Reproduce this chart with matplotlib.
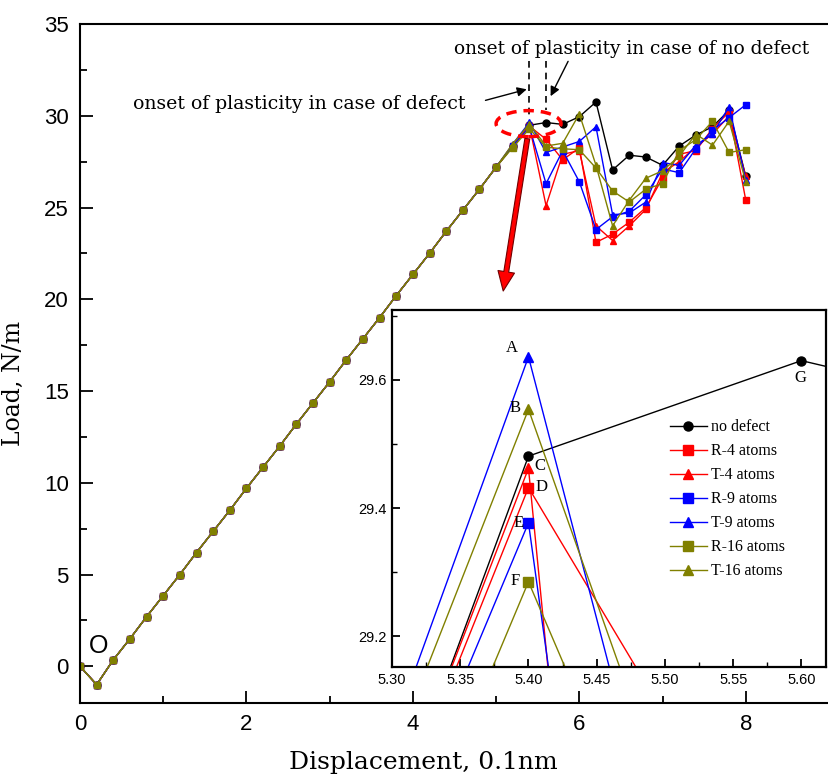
import numpy as np
import matplotlib
matplotlib.use('Agg')
import matplotlib.pyplot as plt
from matplotlib.patches import Ellipse, FancyArrowPatch
from matplotlib.ticker import MultipleLocator

# displacement (0.1 nm), step 0.2
disp = np.round(np.arange(0, 8.01, 0.2), 1)

# elastic part, identical for all cases (0 .. 5.0)
load_shared = [0.0, -1.0, 0.35, 1.5, 2.7, 3.85, 5.0, 6.2, 7.35, 8.5,
               9.7, 10.85, 12.0, 13.2, 14.35, 15.5, 16.7, 17.85, 19.0, 20.2,
               21.35, 22.5, 23.7, 24.85, 26.0, 27.2]

# 5.2 .. 8.0
no_defect = [28.33, 29.481, 29.63, 29.53, 29.95, 30.75, 27.05, 27.85, 27.75, 27.3,
             28.35, 28.95, 29.4, 30.3, 26.7]
r4 = [28.37, 29.432, 28.72, 27.6, 28.25, 23.1, 23.55, 24.2, 25.0, 26.6,
      27.9, 28.1, 29.3, 30.2, 25.4]
t4 = [28.36, 29.462, 25.1, 27.9, 28.1, 24.0, 23.2, 24.0, 24.9, 26.9,
      27.5, 28.3, 29.0, 30.0, 26.7]
r9 = [28.36, 29.377, 26.3, 28.1, 26.4, 23.8, 24.5, 24.8, 25.7, 27.1,
      26.9, 28.2, 29.2, 29.9, 30.6]
t9 = [28.46, 29.636, 28.0, 28.3, 28.6, 29.4, 24.6, 24.7, 25.3, 27.45,
      27.3, 28.4, 29.0, 30.5, 26.5]
r16 = [28.27, 29.285, 28.29, 28.2, 28.15, 27.15, 25.9, 25.3, 26.0, 26.3,
       28.1, 28.7, 29.7, 28.0, 28.15]
t16 = [28.47, 29.554, 28.35, 28.5, 30.1, 27.3, 24.0, 25.4, 26.6, 27.0,
       27.8, 29.0, 28.4, 29.7, 26.4]

labels = ['no defect', 'R-4 atoms', 'T-4 atoms', 'R-9 atoms', 'T-9 atoms',
          'R-16 atoms', 'T-16 atoms']
tails = [no_defect, r4, t4, r9, t9, r16, t16]
colors = ['black', 'red', 'red', 'blue', 'blue', '#808000', '#808000']
markers = ['o', 's', '^', 's', '^', 's', '^']

# point labels in the inset
pt_names = ['A', 'B', 'C', 'D', 'E', 'F', 'G']
pt_pos = [(5.388, 29.65), (5.390, 29.556), (5.408, 29.466), (5.4095, 29.433),
          (5.393, 29.377), (5.390, 29.286), (5.599, 29.603)]

sans = ['Liberation Sans', 'DejaVu Sans']
serif = ['DejaVu Serif']
serif2 = ['Liberation Serif', 'DejaVu Serif']

fig = plt.figure(figsize=(8.29, 7.76), dpi=100)
ax = fig.add_axes([80 / 829, 1 - 703 / 776, 749 / 829, 679 / 776])

for lab, tail, c, m in zip(labels, tails, colors, markers):
    y = load_shared + tail
    ax.plot(disp, y, color=c, marker=m, ms=5, lw=1.0, label=lab)

ax.set_xlim(0, 9)
ax.set_ylim(-2, 35)
ax.xaxis.set_major_locator(MultipleLocator(2))
ax.xaxis.set_minor_locator(MultipleLocator(1))
ax.yaxis.set_major_locator(MultipleLocator(5))
ax.yaxis.set_minor_locator(MultipleLocator(2.5))
ax.tick_params(which='major', direction='in', length=9, width=1.3, labelsize=16, pad=8)
ax.tick_params(which='minor', direction='in', length=5, width=1.3)
for lbl in ax.get_xticklabels() + ax.get_yticklabels():
    lbl.set_family(sans)
for s in ax.spines.values():
    s.set_linewidth(1.5)
ax.spines['right'].set_visible(False)

ax.set_xlabel('Displacement, 0.1nm', family=serif, fontsize=18)
ax.set_ylabel('Load, N/m', family=serif, fontsize=17)
ax.xaxis.set_label_coords(0.459, -0.07)
ax.yaxis.set_label_coords(-0.074, 0.47)

ax.text(0.22, 1.1, 'O', family=sans, fontsize=18, ha='center', va='center')

# onset annotations
ax.text(0.64, 30.66, 'onset of plasticity in case of defect', family=serif,
        fontsize=13.6, ha='left', va='center')
ax.text(4.5, 33.66, 'onset of plasticity in case of no defect', family=serif,
        fontsize=13.4, ha='left', va='center')
ax.plot([5.4, 5.4], [33.0, 29.85], color='black', lw=1.2, ls=(0, (4, 3)))
ax.plot([5.6, 5.6], [33.0, 30.3], color='black', lw=1.2, ls=(0, (4, 3)))
ax.annotate('', xy=(5.40, 31.48), xytext=(4.84, 30.8),
            arrowprops=dict(arrowstyle='-|>', color='black', lw=1.0, mutation_scale=14))
ax.annotate('', xy=(5.64, 30.93), xytext=(5.88, 33.1),
            arrowprops=dict(arrowstyle='-|>', color='black', lw=1.0, mutation_scale=14))
ax.add_patch(Ellipse((5.39, 29.57), 0.78, 1.42, fill=False, ec='red', lw=2.5,
                     ls=(0, (3, 2)), zorder=5))
ax.add_patch(FancyArrowPatch((5.38, 28.9), (5.08, 20.3),
                             arrowstyle='simple,head_width=1.2,head_length=1.4,tail_width=0.35',
                             mutation_scale=10, fc='red', ec='#700000', lw=0.8, zorder=6))

# inset
axin = fig.add_axes([392 / 829, 1 - 667 / 776, 434 / 829, 357 / 776])
for lab, tail, c, m in zip(labels, tails, colors, markers):
    y = load_shared + tail
    axin.plot(disp, y, color=c, marker=m, ms=6.5, lw=1.0, label=lab)
axin.set_xlim(5.30, 5.618)
axin.set_ylim(29.152, 29.709)
axin.xaxis.set_major_locator(MultipleLocator(0.05))
axin.xaxis.set_minor_locator(MultipleLocator(0.025))
axin.yaxis.set_major_locator(MultipleLocator(0.2))
axin.yaxis.set_minor_locator(MultipleLocator(0.1))
axin.tick_params(which='major', direction='in', length=6, width=1.3, labelsize=10.5, pad=4)
axin.tick_params(which='minor', direction='in', length=3.5, width=1.0)
for lbl in axin.get_xticklabels() + axin.get_yticklabels():
    lbl.set_family(sans)
for s in axin.spines.values():
    s.set_linewidth(1.6)

for name, (px, py) in zip(pt_names, pt_pos):
    axin.text(px, py, name, family=serif2, fontsize=12, ha='center', va='center')

leg = axin.legend(loc='upper left', bbox_to_anchor=(0.615, 0.725), frameon=False,
                  prop={'family': serif2, 'size': 11.5}, handlelength=2.3,
                  handletextpad=0.25, labelspacing=0.5, borderpad=0.2)

fig.savefig('out.png', dpi=100)
